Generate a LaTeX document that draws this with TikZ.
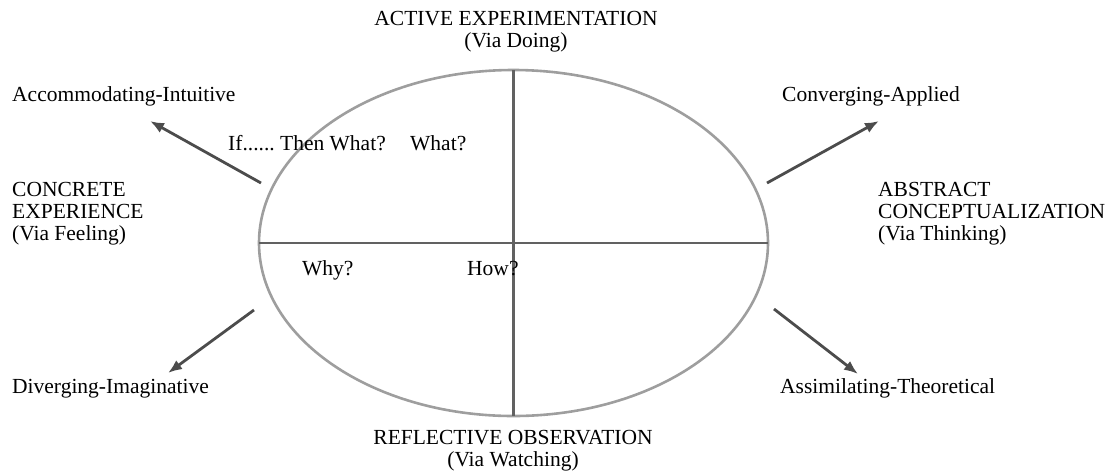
\documentclass[tikz,border=0pt]{standalone}
\usepackage{fontspec}
\setmainfont{Liberation Serif}
\usetikzlibrary{arrows.meta,shapes.geometric}
\begin{document}
\begin{tikzpicture}[x=1pt,y=-1pt,
  lbl/.style={inner sep=0pt,font=\fontsize{21.5}{22}\selectfont},
  ring/.style={draw=black!38,line width=2.6pt},
  axis/.style={draw=black!62,line width=2.6pt},
  pointer/.style={draw=black!70,line width=2.8pt,-{Latex[length=14pt,width=11pt]}}]
\useasboundingbox (0,0) rectangle (1112,475);
% ellipse and axes
\node[ring,ellipse,minimum width=509pt,minimum height=346pt,inner sep=0pt] (E) at (513.5,243) {};
\coordinate (T) at (513.5,70);
\coordinate (B) at (513.5,416);
\coordinate (L) at (259,243);
\coordinate (R) at (768,243);
\draw[axis] (T) -- (B);
\draw[axis] (L) -- (R);
% arrow start points
\coordinate (a1) at (261,183);
\coordinate (a2) at (767,183);
\coordinate (a3) at (254,310);
\coordinate (a4) at (774,309);
\coordinate (t1) at (150,121);
\coordinate (t2) at (879,121);
\coordinate (t3) at (168,373);
\coordinate (t4) at (858,374);
\draw[pointer] (a1) -- (t1);
\draw[pointer] (a2) -- (t2);
\draw[pointer] (a3) -- (t3);
\draw[pointer] (a4) -- (t4);
% labels
\node[lbl,anchor=north,align=center] (ae) at (516,11.5) {ACTIVE EXPERIMENTATION\\(Via Doing)};
\node[lbl,anchor=north,align=center] (ro) at (513,430.5) {REFLECTIVE OBSERVATION\\(Via Watching)};
\node[lbl,anchor=base west] (acc) at (12,101) {Accommodating-Intuitive};
\node[lbl,anchor=base west] (conv) at (782,101) {Converging-Applied};
\node[lbl,anchor=base west] (ift) at (228,150) {If......\ Then What?};
\node[lbl,anchor=base west] (what) at (410,150) {What?};
\node[lbl,anchor=north west,align=left] (ce) at (12,182.5) {CONCRETE\\EXPERIENCE\\(Via Feeling)};
\node[lbl,anchor=north west,align=left] (ac) at (878,182.5) {ABSTRACT\\CONCEPTUALIZATION\\(Via Thinking)};
\node[lbl,anchor=base west] (why) at (302,275) {Why?};
\node[lbl,anchor=base west] (how) at (467,275) {How?};
\node[lbl,anchor=base west] (div) at (12,393) {Diverging-Imaginative};
\node[lbl,anchor=base west] (ass) at (780,393) {Assimilating-Theoretical};
\end{tikzpicture}
\end{document}
